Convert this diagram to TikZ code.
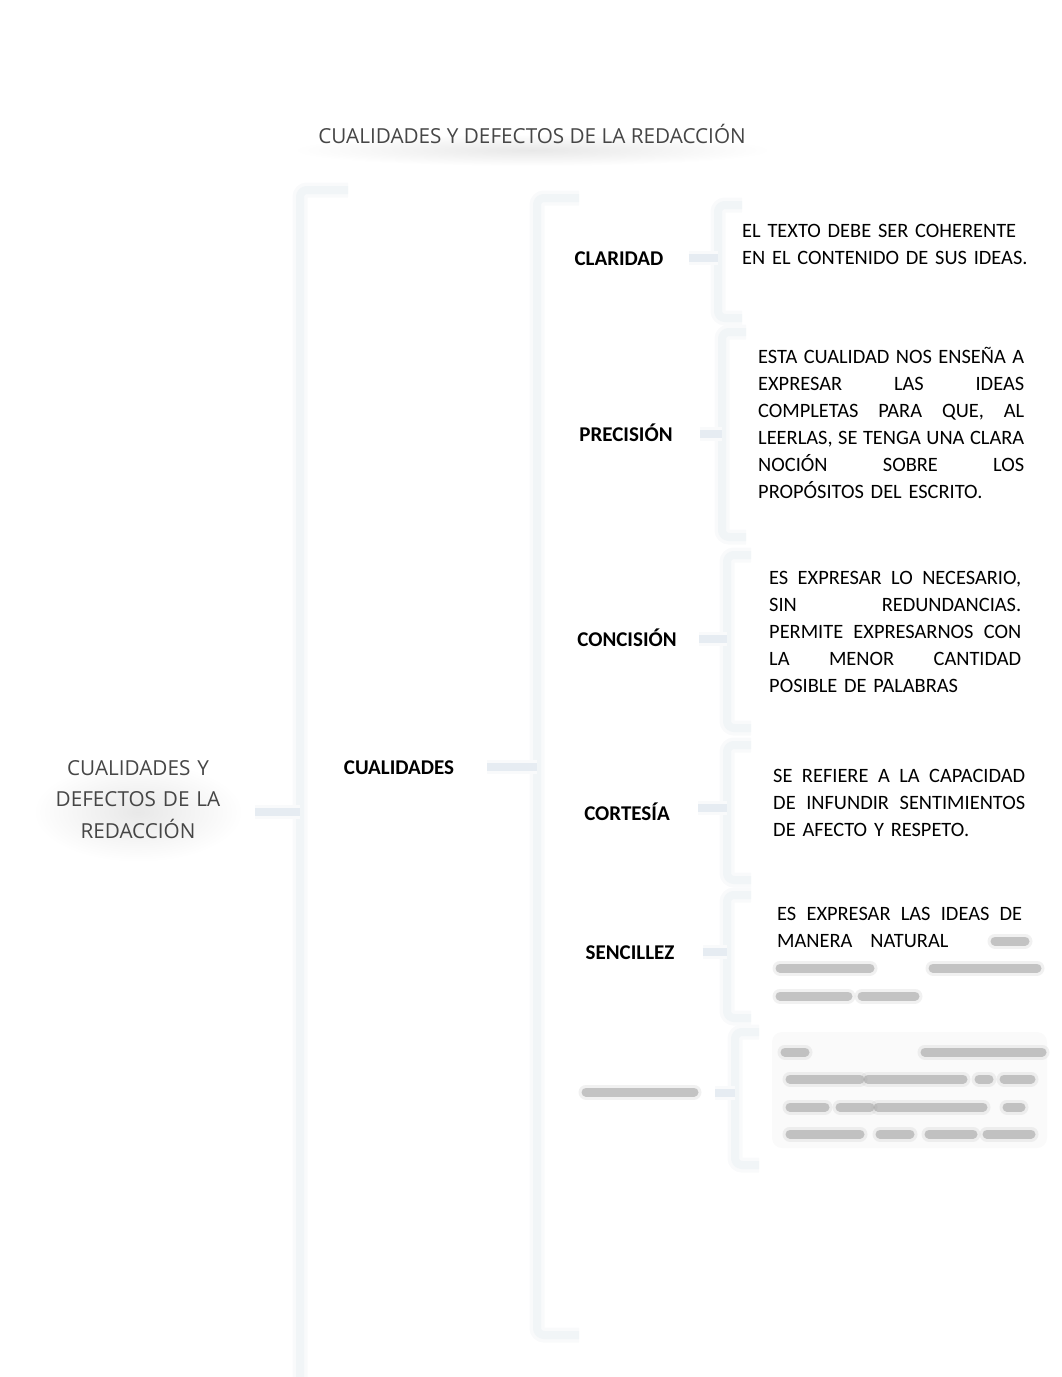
\documentclass[tikz,border=0pt]{standalone}
\usepackage{fontspec}
\setmainfont{Carlito}
\newfontfamily\titlefont{Open Sans}
\definecolor{brk}{RGB}{241,245,247}
\definecolor{brksoft}{RGB}{249,250,251}
\definecolor{stubc}{RGB}{230,236,242}
\definecolor{titlec}{RGB}{70,70,70}
\newcommand\jline[2]{\leavevmode\hbox to #1{#2}\\}
\begin{document}
\begin{tikzpicture}[x=1pt,y=-1pt,
  brkline/.style={draw=brk, line width=8pt, rounded corners=7pt,
    preaction={draw=brksoft, line width=15pt, rounded corners=7pt}},
  stubline/.style={draw=stubc, line width=8pt,
    preaction={draw=brksoft, line width=14pt}},
  lbl/.style={font=\fontsize{21}{27}\selectfont\bfseries, inner sep=0pt, anchor=base},
  para/.style={font=\fontsize{20.4}{27}\selectfont, inner sep=0pt, anchor=base west},
  ttl/.style={font=\titlefont\fontsize{20.7}{31.5}\selectfont, text=titlec, inner sep=2pt},
  glow/.style={inner color=black!9, outer color=white},
  blurbar/.style={line cap=round, draw=black!45, draw opacity=0.45, line width=9pt,
    preaction={draw=black!30, draw opacity=0.18, line width=15pt, line cap=round}}
]
\useasboundingbox (0,0) rectangle (1062,1377);
\clip (0,0) rectangle (1062,1377);

% ---- soft glows behind the title and the root
\shade[glow] (532,150) ellipse (240 and 16);
\shade[glow] (138,812) ellipse (105 and 50);

% ---- bracket coordinates
\coordinate (m1) at (300,190);
\coordinate (m2) at (300,1400);
\coordinate (s1) at (537,198);
\coordinate (s2) at (537,1335);
\coordinate (b1t) at (718,205);  \coordinate (b1b) at (718,318);
\coordinate (b2t) at (722,332);  \coordinate (b2b) at (722,537);
\coordinate (b3t) at (727,555);  \coordinate (b3b) at (727,728);
\coordinate (b4t) at (727,745);  \coordinate (b4b) at (727,880);
\coordinate (b5t) at (727,895);  \coordinate (b5b) at (727,1018);
\coordinate (b6t) at (735,1032); \coordinate (b6b) at (735,1165);

% ---- brackets
\draw[brkline] ([xshift=48pt]m1) -- (m1) -- (m2);
\draw[brkline] ([xshift=42pt]s1) -- (s1) -- (s2) -- ([xshift=42pt]s2);
\foreach \i in {1,...,6}{
  \draw[brkline] ([xshift=24pt]b\i t) -- (b\i t) -- (b\i b) -- ([xshift=24pt]b\i b);
}

% ---- title
\node[ttl, anchor=base] (title) at (532,143) {CUALIDADES Y DEFECTOS DE LA REDACCIÓN};

% ---- root
\node[ttl, anchor=base, text width=175pt, align=center] (root) at (138,775)
  {CUALIDADES Y\\DEFECTOS DE LA\\REDACCIÓN};

% ---- level 2
\node[lbl] (cual) at (399,774) {CUALIDADES};

% ---- level 3 labels
\node[lbl] (clar) at (619,265) {CLARIDAD};
\node[lbl] (prec) at (626,441) {PRECISIÓN};
\node[lbl] (conc) at (627,646) {CONCISIÓN};
\node[lbl] (cort) at (627,820) {CORTESÍA};
\node[lbl] (senc) at (630,959) {SENCILLEZ};
\coordinate (prop) at (697,1093);

% ---- stubs
\coordinate (r0) at (255,812);
\draw[stubline] (r0) -- (r0 -| m1);
\coordinate (c0) at (487,767);
\draw[stubline] (c0) -- (c0 -| s1);
\draw[stubline] ([xshift=25pt]clar.east |- 0,258) -- (b1t |- 0,258);
\draw[stubline] ([xshift=27pt]prec.east |- 0,434) -- (b2t |- 0,434);
\draw[stubline] ([xshift=22pt]conc.east |- 0,639) -- (b3t |- 0,639);
\draw[stubline] ([xshift=28pt]cort.east |- 0,808) -- (b4t |- 0,808);
\draw[stubline] ([xshift=28pt]senc.east |- 0,952) -- (b5t |- 0,952);
\draw[stubline] ([xshift=18pt]prop) -- (prop -| b6t);

% ---- paragraphs
\node[para, text width=320pt, align=left] (tclar) at (742,237)
  {EL TEXTO DEBE SER COHERENTE\\EN EL CONTENIDO DE SUS IDEAS.};

\node[para, text width=266pt, align=left] (tprec) at (758,363)
  {\jline{266pt}{ESTA\hfill CUALIDAD\hfill NOS\hfill ENSEÑA\hfill A}%
   \jline{266pt}{EXPRESAR\hfill LAS\hfill IDEAS}%
   \jline{266pt}{COMPLETAS\hfill PARA\hfill QUE,\hfill AL}%
   \jline{266pt}{LEERLAS,\hfill SE\hfill TENGA\hfill UNA\hfill CLARA}%
   \jline{266pt}{NOCIÓN\hfill SOBRE\hfill LOS}%
   PROPÓSITOS DEL ESCRITO.};

\node[para, text width=252pt, align=left] (tconc) at (769,584)
  {\jline{252pt}{ES\hfill EXPRESAR\hfill LO\hfill NECESARIO,}%
   \jline{252pt}{SIN\hfill REDUNDANCIAS.}%
   \jline{252pt}{PERMITE\hfill EXPRESARNOS\hfill CON}%
   \jline{252pt}{LA\hfill MENOR\hfill CANTIDAD}%
   POSIBLE DE PALABRAS};

\node[para, text width=252pt, align=left] (tcort) at (773,782)
  {\jline{252pt}{SE\hfill REFIERE\hfill A\hfill LA\hfill CAPACIDAD}%
   \jline{252pt}{DE\hfill INFUNDIR\hfill SENTIMIENTOS}%
   DE AFECTO Y RESPETO.};

\node[para, text width=245pt, align=left] (tsenc) at (777,920)
  {\jline{245pt}{ES\hfill EXPRESAR\hfill LAS\hfill IDEAS\hfill DE}%
   MANERA\hspace{18pt}NATURAL};

% ---- blurred text (unreadable in the reference)
\draw[blurbar] (995,941) -- (1025,941);
\draw[blurbar] (780,968) -- (870,968);
\draw[blurbar] (933,968) -- (1037,968);
\draw[blurbar] (780,996) -- (848,996);
\draw[blurbar] (862,996) -- (915,996);

\fill[black!2, rounded corners=10pt] (772,1032) rectangle (1047,1148);
\draw[blurbar] (586,1092) -- (694,1092);
\draw[blurbar] (785,1052) -- (805,1052);
\draw[blurbar] (925,1052) -- (1042,1052);
\draw[blurbar] (790,1079) -- (860,1079);
\draw[blurbar] (868,1079) -- (963,1079);
\draw[blurbar] (979,1079) -- (989,1079);
\draw[blurbar] (1004,1079) -- (1031,1079);
\draw[blurbar] (790,1107) -- (825,1107);
\draw[blurbar] (840,1107) -- (870,1107);
\draw[blurbar] (878,1107) -- (983,1107);
\draw[blurbar] (1007,1107) -- (1021,1107);
\draw[blurbar] (790,1134) -- (860,1134);
\draw[blurbar] (880,1134) -- (910,1134);
\draw[blurbar] (929,1134) -- (973,1134);
\draw[blurbar] (987,1134) -- (1031,1134);
\end{tikzpicture}
\end{document}
